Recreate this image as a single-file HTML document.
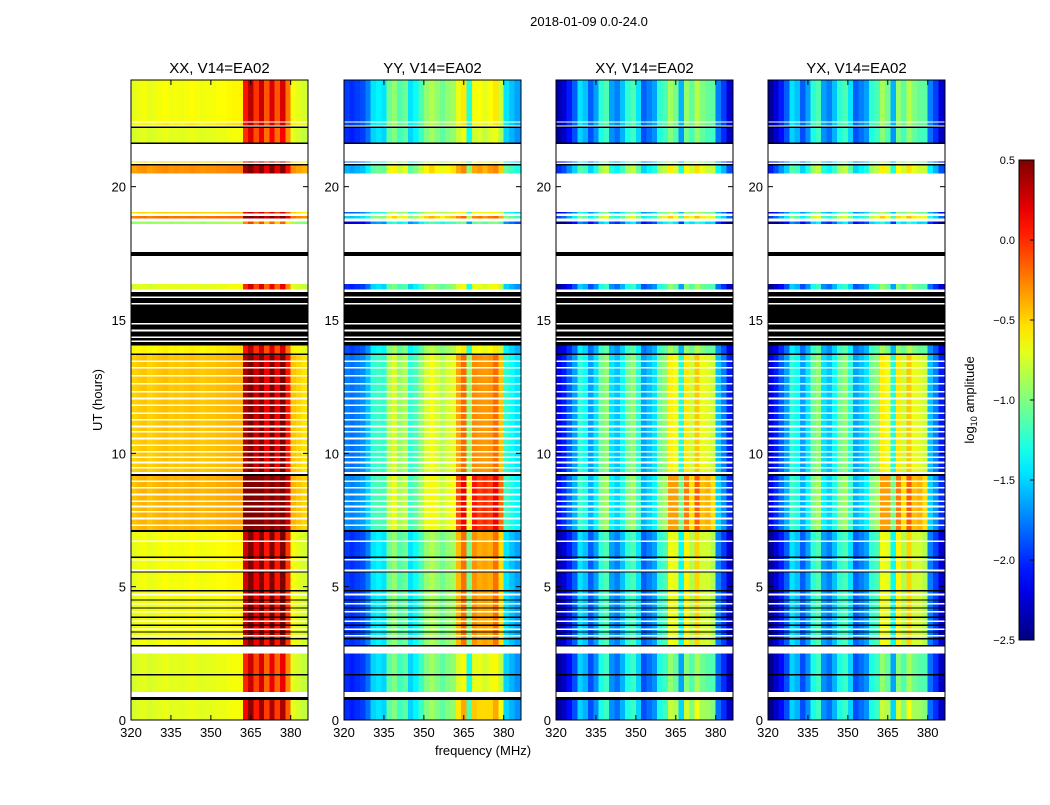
<!DOCTYPE html>
<html><head><meta charset="utf-8"><style>
body{margin:0;background:#fff;}
svg text{font-family:"Liberation Sans","DejaVu Sans",sans-serif;}
</style></head><body>
<svg id="fig" width="1050" height="800" viewBox="0 0 1050 800" xmlns="http://www.w3.org/2000/svg">
<rect width="1050" height="800" fill="#fff"/>
<text x="589" y="26" font-size="13" text-anchor="middle">2018-01-09 0.0-24.0</text>
<text x="483" y="755" font-size="13" text-anchor="middle">frequency (MHz)</text>
<text x="0" y="0" font-size="13" text-anchor="middle" transform="translate(102,400) rotate(-90)">UT (hours)</text>
<g id="plots"></g>
<g id="cbar"></g>
</svg>
<script>
// ---- data ----
const polTitles = ["XX, V14=EA02","YY, V14=EA02","XY, V14=EA02","YX, V14=EA02"];
const freqEdges = [320,322,324,326,328,330,332,334,336,338,340,342,344,346,348,350,352,354,356,358,360,362,364,366,368,370,372,374,376,378,380,382,384,386.5];
const profXX = [-0.75,-0.72,-0.7,-0.75,-0.72,-0.7,-0.68,-0.72,-0.7,-0.72,-0.7,-0.68,-0.7,-0.72,-0.7,-0.7,-0.68,-0.68,-0.66,-0.65,-0.65,-0.1,0.1,-0.2,0.05,-0.3,0.0,-0.3,0.0,-0.4,-0.7,-0.75,-0.8];
const profYY = [-2.0,-2.05,-2.0,-1.95,-1.8,-1.5,-1.45,-1.5,-1.1,-1.0,-1.2,-1.1,-1.5,-1.4,-1.2,-1.0,-0.9,-1.0,-1.1,-1.0,-0.95,-0.9,-0.85,-1.5,-0.95,-0.85,-1.0,-0.85,-0.85,-1.0,-1.5,-1.6,-1.7];
const profXY = [-2.4,-2.3,-2.1,-1.9,-1.5,-1.6,-1.9,-1.7,-1.3,-1.2,-1.7,-1.8,-1.6,-1.3,-1.2,-1.5,-1.9,-1.8,-1.7,-1.3,-1.2,-1.1,-1.3,-1.8,-1.2,-1.3,-1.1,-1.2,-1.35,-1.3,-1.8,-2.0,-2.3];
const profYX = [-2.45,-2.3,-2.1,-1.9,-1.5,-1.6,-1.9,-1.7,-1.3,-1.2,-1.7,-1.8,-1.6,-1.3,-1.2,-1.5,-1.9,-1.8,-1.7,-1.3,-1.2,-1.1,-1.3,-1.8,-1.2,-1.3,-1.1,-1.2,-1.35,-1.3,-1.8,-2.0,-2.3];
const rfiBoost = [0.45,0.6,0.55,0.55];
// time segments: start hour, end hour, type (d=data,k=flagged black,w=empty)
const segStart = [0,0.75,0.87,1.05,1.66,1.72,2.5,2.75,2.82,7.05,7.12,9.15,9.22,9.3,13.7,13.75,14.05,16.05,16.15,16.35,17.4,17.55,18.6,18.7,18.8,18.9,19.0,19.05,20.5,20.8,20.85,20.9,20.95,21.6,21.65,22.2,22.25,22.3,22.4,22.45];
const segEnd   = [0.75,0.87,1.05,1.66,1.72,2.5,2.75,2.82,7.05,7.12,9.15,9.22,9.3,13.7,13.75,14.05,16.05,16.15,16.35,17.4,17.55,18.6,18.7,18.8,18.9,19.0,19.05,20.5,20.8,20.85,20.9,20.95,21.6,21.65,22.2,22.25,22.3,22.4,22.45,24];
const segType  = ["d","k","w","d","k","d","w","k","d","k","d","k","w","d","w","d","k","w","d","w","k","w","d","w","d","w","d","w","d","k","w","d","w","k","d","k","w","d","w","d"];
const segLevel = [0,0,0,0,0,0,0,0,0.05,0,0.3,0,0,0.25,0,0.1,0,0,0,0,0,0,-0.2,0,0.5,0,0.2,0,0.4,0,0,0.2,0,0,0,0,0,0.1,0,0.05];
const segRfi   = [0.8,0,0,0.4,0,0.4,0,0,1,0,1.2,0,0,0.7,0,0.3,0,0,0.4,0,0,0,0.1,0,0.3,0,0.1,0,0.3,0,0,0.2,0,0,0.3,0,0,0.3,0,0.4];
const blackLines = [3.05,3.3,3.56,3.86,4.2,4.5,4.84,5.55,6.1,13.72];
const whiteLines = [3.15,3.4,3.7,4.05,4.35,4.7,5.6,6.0,6.7,7.3,7.55,7.8,8.0,8.2,8.45,8.7,8.95,9.45,9.65,9.85,10.05,10.3,10.55,10.8,11.0,11.25,11.5,11.8,12.05,12.3,12.6,12.9,13.2,13.45,14.2,14.35,14.6,14.85,15.6,15.85];
const xTicks = [320,335,350,365,380];
const yTicks = [0,5,10,15,20];
const cbTicks = [0.5,0.0,-0.5,-1.0,-1.5,-2.0,-2.5];
const cMin=-2.5, cMax=0.5;

// ---- helpers ----
const NS="http://www.w3.org/2000/svg";
function jet(v){
  let t=(v-cMin)/(cMax-cMin); t=Math.max(0,Math.min(1,t));
  const f=x=>Math.round(255*Math.max(0,Math.min(1,x)));
  const r=f(Math.min(4*t-1.5,-4*t+4.5)), g=f(Math.min(4*t-0.5,-4*t+3.5)), b=f(Math.min(4*t+0.5,-4*t+2.5));
  return `rgb(${r},${g},${b})`;
}
function mk(tag,attrs,parent){const e=document.createElementNS(NS,tag);for(const k in attrs)e.setAttribute(k,attrs[k]);parent.appendChild(e);return e;}
const panelX=[131,344,556,768], PW=177, PT=80, PB=720;
const profs=[profXX,profYY,profXY,profYX];
const xs=(p,f)=>panelX[p]+(f-320)/(386.5-320)*PW;
const ys=h=>PB-(h/24)*(PB-PT);
const plots=document.getElementById('plots');

for(let p=0;p<4;p++){
  const g=mk('g',{},plots);
  
  
  const hm=mk('g',{'shape-rendering':'crispEdges'},g);
  
  
  for(let s=0;s<segStart.length;s++){
    const y0=ys(segEnd[s]), y1=ys(segStart[s]);
    if(segType[s]==='w') continue;
    if(segType[s]==='k'){
      const r=mk('rect',{x:panelX[p],y:y0,width:PW,height:Math.max(1,y1-y0),fill:'#000'},hm);
      
      
      continue;
    }
    for(let i=0;i<freqEdges.length-1;i++){
      let v=profs[p][i]+segLevel[s];
      if(freqEdges[i]>=362&&freqEdges[i]<380) v+=segRfi[s]*rfiBoost[p]*((i%2)?0.7:1);
      const x0=xs(p,freqEdges[i]), x1=xs(p,freqEdges[i+1]);
      const r=mk('rect',{x:x0,y:y0,width:x1-x0+0.4,height:Math.max(1,y1-y0),fill:jet(v)},hm);
      
      
    }
  }
  for(const h of whiteLines){
    const r=mk('rect',{x:panelX[p],y:ys(h)-1,width:PW,height:1.6,fill:'#fff'},hm);
    
    
  }
  for(const h of blackLines){
    const r=mk('rect',{x:panelX[p],y:ys(h)-0.7,width:PW,height:1.4,fill:'#000'},hm);
    
    
  }
  const fr=mk('rect',{x:panelX[p],y:PT,width:PW,height:PB-PT,fill:'none',stroke:'#000','stroke-width':1},g);
  
  
  const t=mk('text',{x:panelX[p]+PW/2,y:73,'font-size':15,'text-anchor':'middle'},g);
  t.textContent=polTitles[p];
  
  
  for(const f of xTicks){
    const x=xs(p,f);
    mk('line',{x1:x,x2:x,y1:PB,y2:PB-5,stroke:'#000'},g);
    mk('line',{x1:x,x2:x,y1:PT,y2:PT+5,stroke:'#000'},g);
    const tl=mk('text',{x:x,y:PB+17,'font-size':13,'text-anchor':'middle'},g);
    tl.textContent=f;
    
    
  }
  for(const h of yTicks){
    const y=ys(h);
    mk('line',{x1:panelX[p],x2:panelX[p]+5,y1:y,y2:y,stroke:'#000'},g);
    mk('line',{x1:panelX[p]+PW,x2:panelX[p]+PW-5,y1:y,y2:y,stroke:'#000'},g);
    const tl=mk('text',{x:panelX[p]-5,y:y+5,'font-size':13,'text-anchor':'end'},g);
    tl.textContent=h;
    
    
  }
}
// colorbar
const cb=document.getElementById('cbar');


const CX=1019,CW=15,CT=160,CB=640;
const defs=mk('defs',{},cb);
const lg=mk('linearGradient',{id:'jetg',x1:0,y1:1,x2:0,y2:0},defs);
for(let i=0;i<=20;i++){mk('stop',{offset:i/20,'stop-color':jet(cMin+(cMax-cMin)*i/20)},lg);}
mk('rect',{x:CX,y:CT,width:CW,height:CB-CT,fill:'url(#jetg)',stroke:'#000'},cb);
for(const v of cbTicks){
  const y=CB-(v-cMin)/(cMax-cMin)*(CB-CT);
  mk('line',{x1:CX+CW,x2:CX+CW-4,y1:y,y2:y,stroke:'#000'},cb);
  const tl=mk('text',{x:CX-4,y:y+4,'font-size':11,'text-anchor':'end'},cb);
  tl.textContent=(v<0?'\u2212':'')+Math.abs(v).toFixed(1);
  
  
}
const cl=mk('text',{transform:'translate(974,400) rotate(-90)','font-size':13,'text-anchor':'middle'},cb);
cl.innerHTML='log<tspan font-size="9" dy="3">10</tspan><tspan dy="-3"> amplitude</tspan>';


</script>
</body></html>
